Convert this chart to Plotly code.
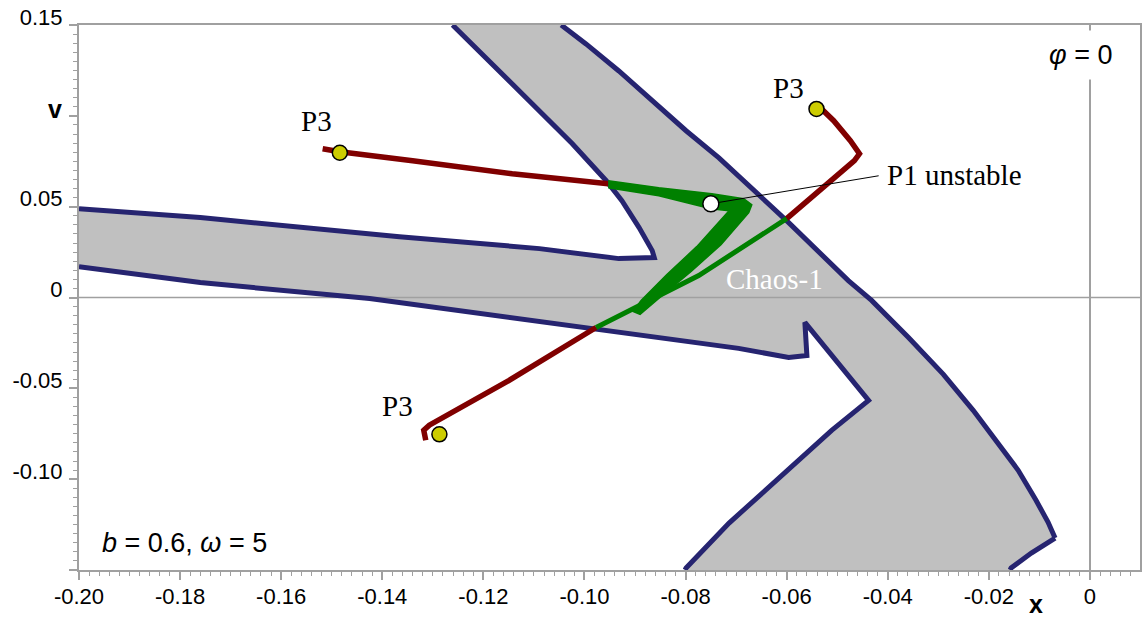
import plotly.graph_objects as go

# ---------------- data (x, v coordinates) ----------------
# boundary of the upper-left white wedge (left edge of the diagonal band + top of the left arm)
b1_x = [-0.1261, -0.1188, -0.1109, -0.1024, -0.0957, -0.0926, -0.0892, -0.0866, -0.0862,
        -0.0932, -0.1089, -0.1366, -0.1760, -0.2000]
b1_y = [0.1500, 0.1302, 0.1082, 0.0846, 0.0643, 0.0533, 0.0385, 0.0258, 0.0220,
        0.0214, 0.0269, 0.0335, 0.0440, 0.0489]
# bottom of the left arm, notch, lower-left edge of the lower band
b2_x = [-0.2000, -0.1760, -0.1425, -0.0977, -0.0833, -0.0695, -0.0596, -0.0560, -0.0564,
        -0.0497, -0.0442, -0.0438, -0.0511, -0.0586, -0.0641, -0.0714, -0.0799, -0.0801]
b2_y = [0.0170, 0.0082, -0.0006, -0.0170, -0.0225, -0.0280, -0.0330, -0.0319, -0.0137,
        -0.0363, -0.0555, -0.0566, -0.0731, -0.0923, -0.1060, -0.1242, -0.1489, -0.1500]
# outer (right) boundary down to the tip
b3_x = [-0.1046, -0.0997, -0.0932, -0.0866, -0.0799, -0.0734, -0.0675, -0.0596, -0.0478,
        -0.0432, -0.0359, -0.0290, -0.0231, -0.0182, -0.0142, -0.0107, -0.0083, -0.0069]
b3_y = [0.1500, 0.1396, 0.1247, 0.1082, 0.0918, 0.0769, 0.0615, 0.0412, 0.0093,
        -0.0016, -0.0220, -0.0423, -0.0621, -0.0797, -0.0951, -0.1115, -0.1236, -0.1324]
# short edge from the tip to the bottom of the frame
b4_x = [-0.0069, -0.0116, -0.0156, -0.0158]
b4_y = [-0.1324, -0.1407, -0.1489, -0.1500]

# trajectories (red = outside Chaos-1 basin, green = inside)
r1_x = [-0.1518, -0.1484, -0.1340, -0.1143, -0.0953]
r1_y = [0.0819, 0.0802, 0.0753, 0.0681, 0.0626]
# thick green "Z" outline (upper band + diagonal)
gz_x = [-0.0953, -0.0853, -0.0748, -0.0685, -0.0669, -0.0675, -0.0730, -0.0789, -0.0849,
        -0.0890, -0.0904, -0.0888, -0.0837, -0.0778, -0.0726, -0.0714, -0.0750, -0.0853,
        -0.0953]
gz_y = [0.0643, 0.0604, 0.0571, 0.0544, 0.0511, 0.0467, 0.0291, 0.0143, 0.0005,
        -0.0093, -0.0077, -0.0016, 0.0126, 0.0280, 0.0440, 0.0478, 0.0489, 0.0560,
        0.0604]
g3_x = [-0.0600, -0.0774, -0.0977]
g3_y = [0.0434, 0.0121, -0.0165]
r2_x = [-0.0535, -0.0507, -0.0474, -0.0456, -0.0466, -0.0537, -0.0600]
r2_y = [0.1049, 0.0973, 0.0863, 0.0791, 0.0753, 0.0588, 0.0434]
r3_x = [-0.0977, -0.1149, -0.1307, -0.1318, -0.1314]
r3_y = [-0.0165, -0.0456, -0.0703, -0.0731, -0.0786]

p3_x = [-0.1484, -0.0541, -0.1287]
p3_y = [0.0797, 0.1038, -0.0753]
p1_x = [-0.0750]
p1_y = [0.0516]

x_ticks = [-0.20, -0.18, -0.16, -0.14, -0.12, -0.10, -0.08, -0.06, -0.04, -0.02, 0.0]
x_text = ["-0.20", "-0.18", "-0.16", "-0.14", "-0.12", "-0.10", "-0.08", "-0.06", "-0.04", "-0.02", "0"]
y_ticks = [0.15, 0.10, 0.05, 0.0, -0.05, -0.10, -0.15]
y_text = ["0.15", "", "0.05", "0", "-0.05", "-0.10", ""]

NAVY = "#262470"
GRAY = "#c0c0c0"
RED = "#800000"
GREEN = "#008000"
AXC = "#a0a0a0"

# ---------------- figure ----------------
fig = go.Figure()

# gray basin polygon
poly_x = b1_x + b2_x + b4_x[::-1] + b3_x[::-1] + [b1_x[0]]
poly_y = b1_y + b2_y + b4_y[::-1] + b3_y[::-1] + [b1_y[0]]
fig.add_trace(go.Scatter(x=poly_x, y=poly_y, mode="lines", fill="toself",
                         fillcolor=GRAY, line=dict(width=0, color=GRAY), hoverinfo="skip"))
# horizontal zero line over the fill
fig.add_trace(go.Scatter(x=[-0.2, 0.0103], y=[0, 0], mode="lines",
                         line=dict(color=AXC, width=1.5), hoverinfo="skip"))
for bx, by in [(b1_x, b1_y), (b2_x, b2_y), (b3_x, b3_y), (b4_x, b4_y)]:
    fig.add_trace(go.Scatter(x=bx, y=by, mode="lines",
                             line=dict(color=NAVY, width=5), hoverinfo="skip"))

# trajectories
for tx, ty in [(r1_x, r1_y), (r2_x, r2_y), (r3_x, r3_y)]:
    fig.add_trace(go.Scatter(x=tx, y=ty, mode="lines", line=dict(color=RED, width=5.5)))
fig.add_trace(go.Scatter(x=gz_x, y=gz_y, mode="lines", fill="toself", fillcolor=GREEN,
                         line=dict(color=GREEN, width=1.5)))
fig.add_trace(go.Scatter(x=g3_x, y=g3_y, mode="lines", line=dict(color=GREEN, width=5)))

# pointer line to P1
fig.add_trace(go.Scatter(x=[p1_x[0], -0.0418], y=[p1_y[0], 0.0670], mode="lines",
                         line=dict(color="black", width=1)))
# fixed points
fig.add_trace(go.Scatter(x=p3_x, y=p3_y, mode="markers",
                         marker=dict(size=15, color="#cccc00", line=dict(color="black", width=1.5))))
fig.add_trace(go.Scatter(x=p1_x, y=p1_y, mode="markers",
                         marker=dict(size=16, color="white", line=dict(color="black", width=1.5))))

serif = dict(family="Liberation Serif, Times New Roman, serif", size=29, color="black")
sans = "Liberation Sans, Arial, sans-serif"
ann = [
    dict(x=-0.1531, y=0.0973, text="P3", showarrow=False, font=serif),
    dict(x=-0.0596, y=0.1154, text="P3", showarrow=False, font=serif),
    dict(x=-0.1370, y=-0.0599, text="P3", showarrow=False, font=serif),
    dict(x=-0.0405, y=0.0676, text="P1 unstable", showarrow=False, xanchor="left", font=serif),
    dict(x=-0.0624, y=0.0104, text="Chaos-1", showarrow=False,
         font=dict(family=serif["family"], size=29, color="white")),
    dict(xref="paper", yref="paper", x=0.0198, y=0.0495, xanchor="left", yanchor="middle",
         text="<i>b</i> = 0.6, <i>ω</i> = 5", showarrow=False,
         font=dict(family=sans, size=27, color="black")),
    dict(xref="paper", yref="paper", x=0.983, y=0.945, xanchor="right", yanchor="middle",
         text="<i>φ</i> = 0", showarrow=False, bgcolor="white", borderpad=9,
         font=dict(family=sans, size=27, color="black")),
    dict(xref="paper", x=-0.031, y=0.1038, text="<b>v</b>", showarrow=False,
         font=dict(family=sans, size=25, color="black")),
    dict(x=-0.0107, yref="paper", y=-0.092, text="<b>x</b>", showarrow=False,
         font=dict(family=sans, size=25, color="black")),
]

fig.update_layout(
    width=1147, height=621,
    margin=dict(l=79, r=5, t=24, b=51),
    paper_bgcolor="white", plot_bgcolor="white",
    showlegend=False,
    annotations=ann,
)
fig.update_xaxes(range=[-0.2, 0.0099], tickvals=x_ticks, ticktext=x_text,
                 showgrid=False, zeroline=True, zerolinecolor=AXC, zerolinewidth=1.5,
                 showline=True, linecolor=AXC, linewidth=2, mirror=True,
                 ticks="outside", ticklen=8, tickcolor=AXC, tickwidth=1.5,
                 ticklabelstandoff=-2,
                 tickfont=dict(family=sans, size=22, color="black"),
                 minor=dict(dtick=0.002, tick0=0, ticks="outside", ticklen=4,
                            tickcolor=AXC, tickwidth=1, showgrid=False))
fig.update_yaxes(range=[-0.15, 0.15], tickvals=y_ticks, ticktext=y_text,
                 showgrid=False, zeroline=False,
                 showline=True, linecolor=AXC, linewidth=2, mirror=True,
                 ticks="outside", ticklen=8, tickcolor=AXC, tickwidth=1.5,
                 ticklabelshift=-8, ticklabelstandoff=2,
                 tickfont=dict(family=sans, size=22, color="black"),
                 minor=dict(dtick=0.005, tick0=0, ticks="outside", ticklen=4,
                            tickcolor=AXC, tickwidth=1, showgrid=False))

fig.write_html("out.html")
